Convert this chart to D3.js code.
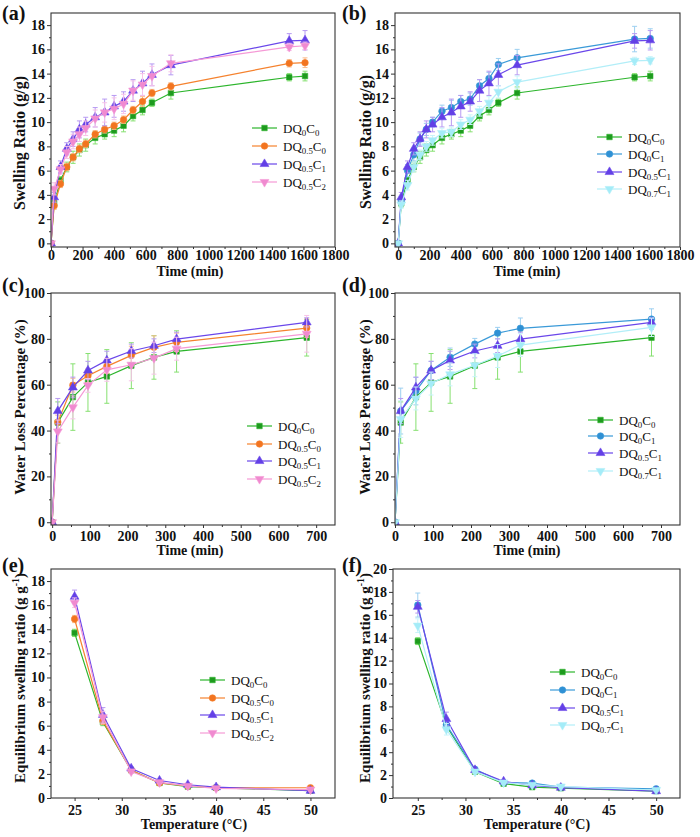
<!DOCTYPE html>
<html><head><meta charset="utf-8">
<script src="https://cdn.jsdelivr.net/npm/d3@7"></script>
<style>body{margin:0;background:#fff}svg{display:block}</style>
</head><body>
<svg id="chart" width="700" height="837"></svg>
<script>
// ---------- DATA ----------
const timeSwell = [0,20,60,100,140,180,220,280,340,400,460,520,580,640,760,1510,1610];
const swellDQ0C0   = [0,3.3,5.2,6.3,7.1,7.7,8.1,8.7,9.0,9.3,9.7,10.5,11.0,11.6,12.4,13.7,13.8];
const swellDQ05C0  = [0,3.1,4.9,6.3,7.1,7.8,8.2,9.0,9.4,9.7,10.2,11.0,11.7,12.4,12.95,14.85,14.9];
const swellDQ05C1  = [0,3.8,6.3,7.8,8.6,9.4,9.8,10.4,10.8,11.3,11.7,12.6,13.2,13.9,14.7,16.7,16.75];
const swellDQ05C2  = [0,4.5,6.1,7.5,8.4,9.0,9.5,10.3,10.8,11.1,11.5,12.6,13.1,13.8,14.85,16.2,16.3];
const swellDQ0C1   = [0,3.5,6.0,7.3,8.6,9.4,10.0,10.9,11.2,11.7,11.9,13.0,13.6,14.75,15.3,16.85,16.9];
const swellDQ07C1  = [0,3.2,4.8,6.3,7.3,8.0,8.5,9.1,9.2,9.8,10.2,10.9,11.6,12.5,13.3,15.05,15.1];
const swellErrDQ0C0  = [0,0.3,0.3,0.4,0.5,0.5,0.5,0.5,0.4,0.5,0.5,0.4,0.4,0.3,0.5,0.3,0.4];
const swellErrDQ05C0 = [0,0.3,0.3,0.3,0.3,0.3,0.3,0.3,0.3,0.3,0.3,0.3,0.4,0.3,0.3,0.3,0.4];
const swellErrDQ05C1 = [0,0.4,0.5,0.5,0.6,0.7,0.6,0.8,1.1,0.9,0.8,0.9,1.0,0.9,0.8,0.6,0.8];
const swellErrDQ05C2 = [0,0.5,0.4,0.5,0.6,0.6,0.6,0.7,0.8,0.9,0.8,0.8,0.9,0.8,0.7,0.3,0.3];
const swellErrDQ0C1  = [0,0.3,0.5,0.5,0.5,0.5,0.4,0.5,0.6,0.5,0.5,0.5,0.5,0.5,0.7,1.05,0.8];
const swellErrDQ07C1 = [0,0.3,0.4,0.4,0.4,0.4,0.4,0.4,0.4,0.4,0.4,0.4,0.5,0.5,0.5,0.3,0.3];

const timeLoss = [0,15,55,95,145,210,270,330,675];
const lossDQ0C0  = [0,43.5,54.6,61,63.6,68.3,71.9,74.5,80.5];
const lossDQ05C0 = [0,43.7,59.8,63.9,68,72.8,76.3,78.5,84.7];
const lossDQ05C1 = [0,48.5,58.8,66.2,70.6,74.7,77,79.9,87.2];
const lossDQ05C2 = [0,39.6,50.1,59.7,66.5,68.7,71.6,75.7,82.2];
const lossDQ0C1  = [0,48.5,57.2,66.2,72,77.7,82.5,84.6,88.6];
const lossDQ07C1 = [0,45,54,60.5,64.5,68.5,72.5,77.3,85];
const lossErrDQ0C0  = [0,9,14.5,12.6,11.7,10,9.5,9,8];
const lossErrDQ05C0 = [0,3,3,3,3,4,5,4,4];
const lossErrDQ05C1 = [0,5.5,4.5,4,4,3,3,3,2];
const lossErrDQ05C2 = [0,5,5,3,5,7,7,5,8];
const lossErrDQ0C1  = [0,10,6,4,4,2.5,2.5,4.5,4.5];
const lossErrDQ07C1 = [0,8,5,5,5,5,5,5,4];

const temps = [25,28,31,34,37,40,50];
const eqDQ0C0  = [13.7,6.3,2.3,1.25,0.95,0.85,0.6];
const eqDQ05C0 = [14.85,6.4,2.3,1.25,1.0,0.85,0.85];
const eqDQ05C1 = [16.7,6.9,2.45,1.45,1.1,0.9,0.6];
const eqDQ05C2 = [16.2,6.7,2.2,1.3,1.0,0.8,0.7];
const eqDQ0C1  = [16.85,6.4,2.5,1.35,1.3,0.95,0.8];
const eqDQ07C1 = [15.05,6.0,2.3,1.35,1.15,1.0,0.7];
const eqErrDQ0C0  = [0.3,0.3,0.1,0.1,0.1,0.1,0.1];
const eqErrDQ05C0 = [0.3,0.3,0.1,0.1,0.1,0.1,0.1];
const eqErrDQ05C1 = [0.55,0.6,0.15,0.1,0.1,0.1,0.1];
const eqErrDQ05C2 = [0.4,0.5,0.15,0.1,0.1,0.1,0.1];
const eqErrDQ0C1  = [1.05,0.5,0.15,0.1,0.1,0.1,0.1];
const eqErrDQ07C1 = [0.6,0.5,0.15,0.1,0.1,0.1,0.1];

const ticksSwellX = [0,200,400,600,800,1000,1200,1400,1600,1800];
const ticksSwellY = [0,2,4,6,8,10,12,14,16,18];
const ticksLossX = [0,100,200,300,400,500,600,700];
const ticksLossY = [0,20,40,60,80,100];
const ticksTempX = [25,30,35,40,45,50];
const ticksEqY18 = [0,2,4,6,8,10,12,14,16,18];
const ticksEqY20 = [0,2,4,6,8,10,12,14,16,18,20];

// ---------- STYLES ----------
const FONT = "'Liberation Serif','Times New Roman',serif";
const STY = {
  DQ0C0:  {name:"DQ{0}C{0}",   line:"#2cb52c", fill:"#1e9a1e", err:"#86e070", shape:"square"},
  DQ05C0: {name:"DQ{0.5}C{0}", line:"#f5822e", fill:"#f27420", err:"#f9bb8c", shape:"circle"},
  DQ05C1: {name:"DQ{0.5}C{1}", line:"#6a47ea", fill:"#6340e6", err:"#b79af2", shape:"up"},
  DQ05C2: {name:"DQ{0.5}C{2}", line:"#f59ad6", fill:"#f08ad0", err:"#f7c2e8", shape:"down"},
  DQ0C1:  {name:"DQ{0}C{1}",   line:"#3a9ad8", fill:"#2f90d4", err:"#9ccff0", shape:"circle"},
  DQ07C1: {name:"DQ{0.7}C{1}", line:"#b2eef8", fill:"#a4ecf8", err:"#c8f4fa", shape:"down"}
};

const svg = d3.select("#chart");

function symbolPath(shape){
  if (shape==="square") return d3.symbol(d3.symbolSquare, 30)();
  if (shape==="circle") return d3.symbol(d3.symbolCircle, 34)();
  return d3.symbol(d3.symbolTriangle, 34)();
}
function drawMarker(g, shape, cx, cy, st){
  g.append("path").attr("d", symbolPath(shape))
    .attr("transform", `translate(${cx},${cy})` + (shape==="down" ? " rotate(180)" : ""))
    .attr("fill", st.fill).attr("stroke", st.line).attr("stroke-width", 0.6);
}
function richText(t, str, size){
  const parts = str.split(/(\{[^}]*\})/).filter(s=>s.length);
  let sub = false;
  parts.forEach(p=>{
    if (p.startsWith("{")){
      t.append("tspan").attr("font-size", size*0.68).attr("dy", 3).text(p.slice(1,-1));
      sub = true;
    } else {
      t.append("tspan").attr("font-size", size).attr("dy", sub? -3 : 0).text(p);
      sub = false;
    }
  });
}

function panel(p){
  const g = svg.append("g");
  const x = d3.scaleLinear().domain(p.xd).range([p.l, p.r]);
  const y = d3.scaleLinear().domain(p.yd).range([p.b, p.t]);
  const cp = "clip"+p.id;
  g.append("clipPath").attr("id", cp).append("rect")
    .attr("x", p.l).attr("y", p.t).attr("width", p.r-p.l).attr("height", p.b-p.t);

  // axes
  const ax = g.append("g").attr("transform", `translate(0,${p.b})`)
    .call(d3.axisBottom(x).tickValues(p.xt).tickSize(3).tickPadding(1).tickFormat(d3.format("d")));
  const axm = g.append("g").attr("transform", `translate(0,${p.b})`)
    .call(d3.axisBottom(x).tickValues(p.xm).tickSize(2).tickFormat(""));
  const ay = g.append("g").attr("transform", `translate(${p.l},0)`)
    .call(d3.axisLeft(y).tickValues(p.yt).tickSize(4).tickPadding(2).tickFormat(d3.format("d")));
  const aym = g.append("g").attr("transform", `translate(${p.l},0)`)
    .call(d3.axisLeft(y).tickValues(p.ym).tickSize(2).tickFormat(""));
  [ax,axm,ay,aym].forEach(a=>{
    a.select(".domain").remove();
    a.selectAll("line").attr("stroke","#333").attr("stroke-width",1);
    a.selectAll("text").attr("font-family",FONT).attr("font-weight","bold")
      .attr("font-size",14).attr("fill","#111");
  });
  ax.selectAll("text").attr("y", p.xlBase - p.b).attr("dy", 0);

  // series
  const pg = g.append("g").attr("clip-path", `url(#${cp})`);
  p.series.forEach(s=>{
    const st = STY[s.key];
    const pts = s.xs.map((xv,i)=>({x:xv, y:s.ys[i], e:s.es[i]}));
    pts.forEach(d=>{
      if (!d.e) return;
      const x0 = x(d.x), y1 = y(d.y - d.e), y2 = y(d.y + d.e);
      pg.append("line").attr("x1",x0).attr("x2",x0).attr("y1",y1).attr("y2",y2)
        .attr("stroke",st.err).attr("stroke-width",1);
      [y1,y2].forEach(yy=>pg.append("line").attr("x1",x0-2.5).attr("x2",x0+2.5)
        .attr("y1",yy).attr("y2",yy).attr("stroke",st.err).attr("stroke-width",1));
    });
    pg.append("path").datum(pts)
      .attr("d", d3.line().x(d=>x(d.x)).y(d=>y(d.y)))
      .attr("fill","none").attr("stroke",st.line).attr("stroke-width",1.2);
    pts.forEach(d=>drawMarker(pg, st.shape, x(d.x), y(d.y), st));
  });

  // frame
  g.append("rect").attr("x",p.l).attr("y",p.t).attr("width",p.r-p.l).attr("height",p.b-p.t)
    .attr("fill","none").attr("stroke","#333").attr("stroke-width",1.1);

  // legend
  p.series.forEach((s,i)=>{
    const st = STY[s.key];
    const yy = p.legY[i];
    g.append("line").attr("x1",p.legX).attr("x2",p.legX+25).attr("y1",yy).attr("y2",yy)
      .attr("stroke",st.line).attr("stroke-width",1.2);
    drawMarker(g, st.shape, p.legX+12.5, yy, st);
    const t = g.append("text").attr("x",p.legX+31).attr("y",yy+4.5)
      .attr("font-family",FONT).attr("fill","#111");
    richText(t, st.name, 13);
  });

  // titles
  g.append("text").attr("x",p.xtX).attr("y",p.xtY).attr("text-anchor","middle")
    .attr("font-family",FONT).attr("font-weight","bold").attr("font-size",14).attr("fill","#111")
    .text(p.xTitle);
  const yt = g.append("text").attr("transform",`translate(${p.ytX},${p.ytY}) rotate(-90)`)
    .attr("text-anchor","middle").attr("font-family",FONT).attr("font-weight","bold")
    .attr("font-size",p.ytSize).attr("fill","#111");
  if (p.yTitleSup){
    yt.append("tspan").text(p.yTitle);
    yt.append("tspan").attr("font-size",p.ytSize*0.65).attr("dy",-6).text(p.yTitleSup);
    yt.append("tspan").attr("dy",6).text(")");
  } else yt.text(p.yTitle);
  g.append("text").attr("x",p.labX).attr("y",p.labY).attr("font-family",FONT)
    .attr("font-weight","bold").attr("font-size",20).attr("fill","#111").text(p.label);
}

const minorSwellX = d3.range(100,1800,200);
const minorSwellY = d3.range(1,19,2);
const minorLossX = d3.range(50,750,100);
const minorLossY = d3.range(10,100,20);
const minorTempX = [27.5,32.5,37.5,42.5,47.5];
const minorEqY18 = d3.range(1,19,2);
const minorEqY20 = d3.range(1,20,2);

const ser = (keys, xs, ys, es)=>keys.map((k,i)=>({key:k, xs:xs, ys:ys[i], es:es[i]}));

// (a)
panel({id:"a", l:51, r:335, t:13, b:247, xd:[0,1800], yd:[-0.3,19],
  xt:ticksSwellX, xm:minorSwellX, yt:ticksSwellY, ym:minorSwellY, xlBase:260,
  series: ser(["DQ0C0","DQ05C0","DQ05C1","DQ05C2"], timeSwell,
    [swellDQ0C0,swellDQ05C0,swellDQ05C1,swellDQ05C2],
    [swellErrDQ0C0,swellErrDQ05C0,swellErrDQ05C1,swellErrDQ05C2]),
  legX:252, legY:[128,146,164,182],
  xTitle:"Time (min)", xtX:190, xtY:275.5, yTitle:"Swelling Ratio (g/g)", ytX:25, ytY:143, ytSize:16,
  label:"(a)", labX:2, labY:20});
// (b)
panel({id:"b", l:395, r:680, t:13, b:247, xd:[-20,1800], yd:[-0.3,19],
  xt:ticksSwellX, xm:minorSwellX, yt:ticksSwellY, ym:minorSwellY, xlBase:260,
  series: ser(["DQ0C0","DQ0C1","DQ05C1","DQ07C1"], timeSwell,
    [swellDQ0C0,swellDQ0C1,swellDQ05C1,swellDQ07C1],
    [swellErrDQ0C0,swellErrDQ0C1,swellErrDQ05C1,swellErrDQ07C1]),
  legX:597, legY:[137,154,172,189],
  xTitle:"Time (min)", xtX:527, xtY:275.5, yTitle:"Swelling Ratio (g/g)", ytX:371, ytY:142, ytSize:16,
  label:"(b)", labX:342, labY:20});
// (c)
panel({id:"c", l:51, r:335, t:293, b:525, xd:[-3,750], yd:[-1.2,100],
  xt:ticksLossX, xm:minorLossX, yt:ticksLossY, ym:minorLossY, xlBase:541,
  series: ser(["DQ0C0","DQ05C0","DQ05C1","DQ05C2"], timeLoss,
    [lossDQ0C0,lossDQ05C0,lossDQ05C1,lossDQ05C2],
    [lossErrDQ0C0,lossErrDQ05C0,lossErrDQ05C1,lossErrDQ05C2]),
  legX:247, legY:[426,444,461,479],
  xTitle:"Time (min)", xtX:190, xtY:555, yTitle:"Water Loss Percentage (%)", ytX:25, ytY:407, ytSize:15,
  label:"(c)", labX:2, labY:292});
// (d)
panel({id:"d", l:395, r:680, t:293, b:525, xd:[0,750], yd:[-1.2,100],
  xt:ticksLossX, xm:minorLossX, yt:ticksLossY, ym:minorLossY, xlBase:541,
  series: ser(["DQ0C0","DQ0C1","DQ05C1","DQ07C1"], timeLoss,
    [lossDQ0C0,lossDQ0C1,lossDQ05C1,lossDQ07C1],
    [lossErrDQ0C0,lossErrDQ0C1,lossErrDQ05C1,lossErrDQ07C1]),
  legX:588, legY:[420,436,453,471],
  xTitle:"Time (min)", xtX:527, xtY:555, yTitle:"Water Loss Percentage (%)", ytX:370, ytY:407, ytSize:15,
  label:"(d)", labX:342, labY:292});
// (e)
panel({id:"e", l:51, r:335, t:569, b:798, xd:[22.5,52.6], yd:[0,19],
  xt:ticksTempX, xm:minorTempX, yt:ticksEqY18, ym:minorEqY18, xlBase:815,
  series: ser(["DQ0C0","DQ05C0","DQ05C1","DQ05C2"], temps,
    [eqDQ0C0,eqDQ05C0,eqDQ05C1,eqDQ05C2],
    [eqErrDQ0C0,eqErrDQ05C0,eqErrDQ05C1,eqErrDQ05C2]),
  legX:200, legY:[680,698,715,733],
  xTitle:"Temperature (°C)", xtX:194, xtY:829, yTitle:"Equilibrium swelling ratio (g g", yTitleSup:"-1", ytX:25, ytY:678, ytSize:15,
  label:"(e)", labX:2, labY:572});
// (f)
panel({id:"f", l:393, r:680, t:569, b:798, xd:[22.4,52.5], yd:[0,20],
  xt:ticksTempX, xm:minorTempX, yt:ticksEqY20, ym:minorEqY20, xlBase:815,
  series: ser(["DQ0C0","DQ0C1","DQ05C1","DQ07C1"], temps,
    [eqDQ0C0,eqDQ0C1,eqDQ05C1,eqDQ07C1],
    [eqErrDQ0C0,eqErrDQ0C1,eqErrDQ05C1,eqErrDQ07C1]),
  legX:550, legY:[672,690,708,725],
  xTitle:"Temperature (°C)", xtX:537, xtY:829, yTitle:"Equilibrium swelling ratio (g g", yTitleSup:"-1", ytX:370, ytY:678, ytSize:15,
  label:"(f)", labX:342, labY:572});
</script>
</body></html>
